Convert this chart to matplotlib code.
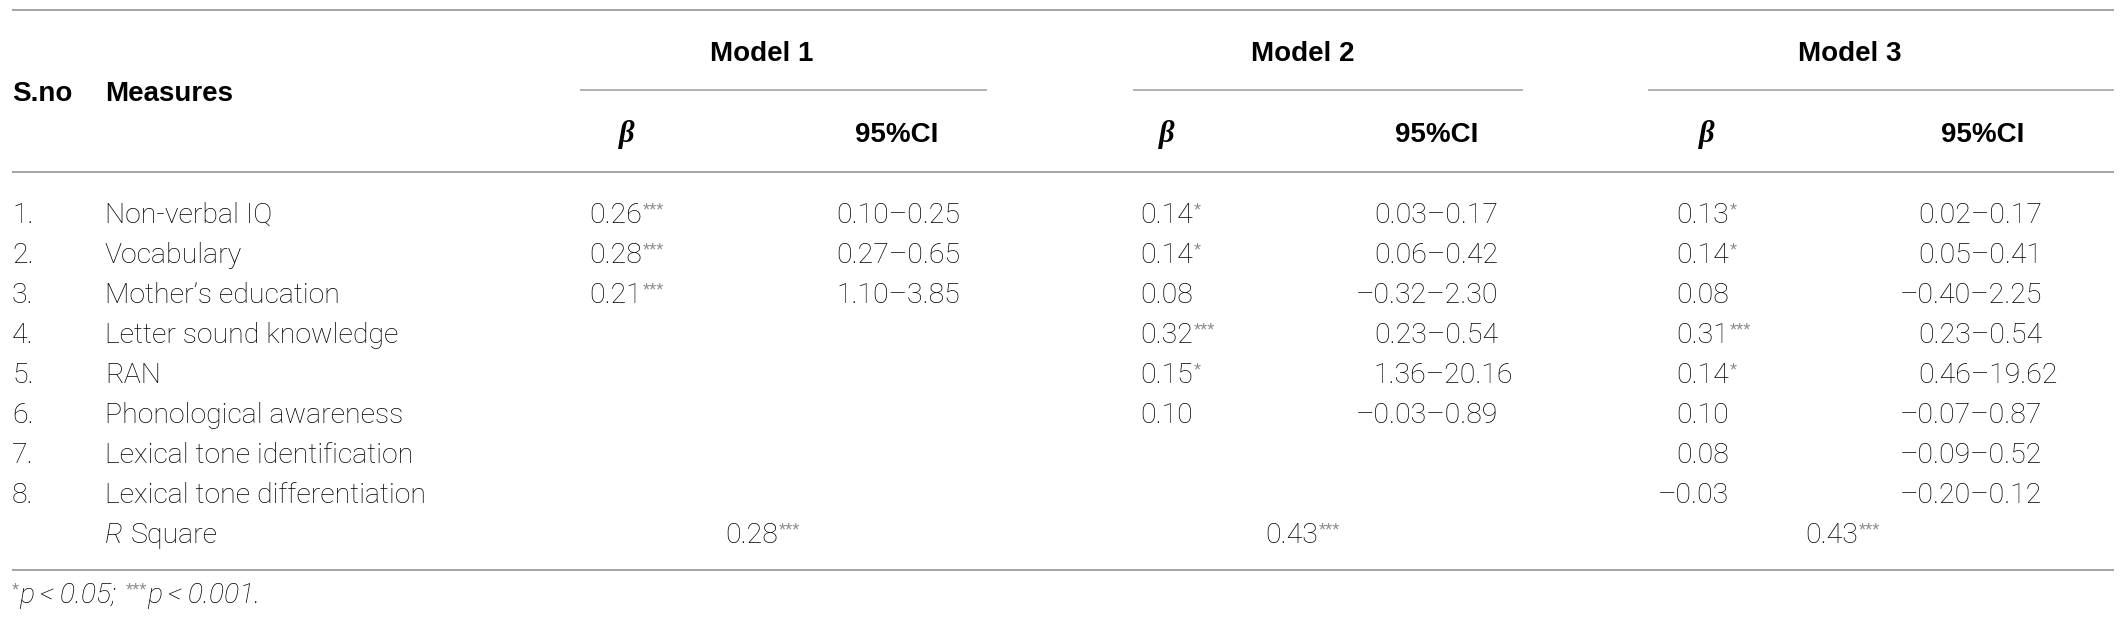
import matplotlib
matplotlib.use("Agg")
import matplotlib.pyplot as plt

# table contents
sno = ["1.", "2.", "3.", "4.", "5.", "6.", "7.", "8."]
measures = ["Non-verbal IQ", "Vocabulary", "Mother\u2019s education",
            "Letter sound knowledge", "RAN", "Phonological awareness",
            "Lexical tone identification", "Lexical tone differentiation"]
models = ["Model 1", "Model 2", "Model 3"]

m1_beta = ["0.26", "0.28", "0.21"]
m1_sig = ["***", "***", "***"]
m1_ci = [("0.10", "0.25"), ("0.27", "0.65"), ("1.10", "3.85")]

m2_beta = ["0.14", "0.14", "0.08", "0.32", "0.15", "0.10"]
m2_sig = ["*", "*", "", "***", "*", ""]
m2_ci = [("0.03", "0.17"), ("0.06", "0.42"), ("\u20130.32", "2.30"),
         ("0.23", "0.54"), ("1.36", "20.16"), ("\u20130.03", "0.89")]

m3_beta = ["0.13", "0.14", "0.08", "0.31", "0.14", "0.10", "0.08", "\u20130.03"]
m3_sig = ["*", "*", "", "***", "*", "", "", ""]
m3_ci = [("0.02", "0.17"), ("0.05", "0.41"), ("\u20130.40", "2.25"),
         ("0.23", "0.54"), ("0.46", "19.62"), ("\u20130.07", "0.87"),
         ("\u20130.09", "0.52"), ("\u20130.20", "0.12")]

r_square = ["0.28", "0.43", "0.43"]
r_sig = ["***", "***", "***"]

# layout (pixels)
W, H = 2126, 628
fs = 20.5
body = dict(family=["Roboto", "DejaVu Sans"], weight="light", fontsize=fs, color="black")
bold = dict(family=["Liberation Sans", "DejaVu Sans"], weight="bold", fontsize=20, color="black")
star = dict(family=["Liberation Sans", "DejaVu Sans"], fontsize=13, color="#8a8a8a")
linec = "#9c9c9c"

model_cx = [762, 1303, 1850]
sub_lines = [(580, 987), (1133, 1523), (1648, 2114)]
beta_cx = [627, 1167, 1707]
ci_cx = [897, 1437, 1983]
beta_right = [642, 1193, 1729]
ci_dash = [907, 1445, 1989]
rsq_right = [778, 1318, 1858]

row0, step = 223, 40.0

fig = plt.figure(figsize=(W / 100, H / 100), dpi=100)
ax = fig.add_axes([0, 0, 1, 1])
ax.set_xlim(0, W)
ax.set_ylim(H, 0)
ax.axis("off")
renderer = fig.canvas.get_renderer()


def text_width(s, **kw):
    t = ax.text(0, 0, s, **kw)
    w = t.get_window_extent(renderer).width
    t.remove()
    return w


for y in (10, 172, 570):
    ax.plot([12, 2114], [y, y], color=linec, lw=1.3, solid_capstyle="butt")
for x0, x1 in sub_lines:
    ax.plot([x0, x1], [90, 90], color=linec, lw=1.1, solid_capstyle="butt")

ax.text(12, 101, "S.no", ha="left", va="baseline", **bold)
ax.text(105, 101, "Measures", ha="left", va="baseline", **bold)
for i, m in enumerate(models):
    ax.text(model_cx[i], 61, m, ha="center", va="baseline", **bold)
    ax.text(beta_cx[i], 142, "\u03b2", ha="center", va="baseline",
            family=["Liberation Serif", "DejaVu Serif"], style="italic",
            weight="bold", fontsize=22)
    ax.text(ci_cx[i], 142, "95%CI", ha="center", va="baseline", **bold)

for i in range(len(measures)):
    y = row0 + i * step
    ax.text(12, y, sno[i], ha="left", va="baseline", **body)
    ax.text(105, y, measures[i], ha="left", va="baseline", **body)

betas = [m1_beta, m2_beta, m3_beta]
sigs = [m1_sig, m2_sig, m3_sig]
cis = [m1_ci, m2_ci, m3_ci]
for k in range(3):
    for i, b in enumerate(betas[k]):
        y = row0 + i * step
        ax.text(beta_right[k], y, b, ha="right", va="baseline", **body)
        if sigs[k][i]:
            ax.text(beta_right[k] + 1, y - 8, sigs[k][i], ha="left", va="baseline", **star)
    for i, (lo, hi) in enumerate(cis[k]):
        y = row0 + i * step
        x_left = ci_dash[k] - text_width(lo + "\u2013", **body)
        ax.text(x_left, y, lo + "\u2013" + hi, ha="left", va="baseline", **body)

y_r = row0 + len(measures) * step
ax.text(105, y_r, "R", ha="left", va="baseline", style="italic", **body)
ax.text(131, y_r, "Square", ha="left", va="baseline", **body)
for k in range(3):
    ax.text(rsq_right[k], y_r, r_square[k], ha="right", va="baseline", **body)
    ax.text(rsq_right[k] + 1, y_r - 8, r_sig[k], ha="left", va="baseline", **star)

# footnote
foot = dict(body, style="italic")
ax.text(12, 595, "*", ha="left", va="baseline", **star)
ax.text(19, 603, "p\u2009<\u20090.05;", ha="left", va="baseline", **foot)
ax.text(126, 595, "***", ha="left", va="baseline", **star)
ax.text(147, 603, "p\u2009<\u20090.001.", ha="left", va="baseline", **foot)

fig.savefig("out.png", dpi=100, facecolor="white")
